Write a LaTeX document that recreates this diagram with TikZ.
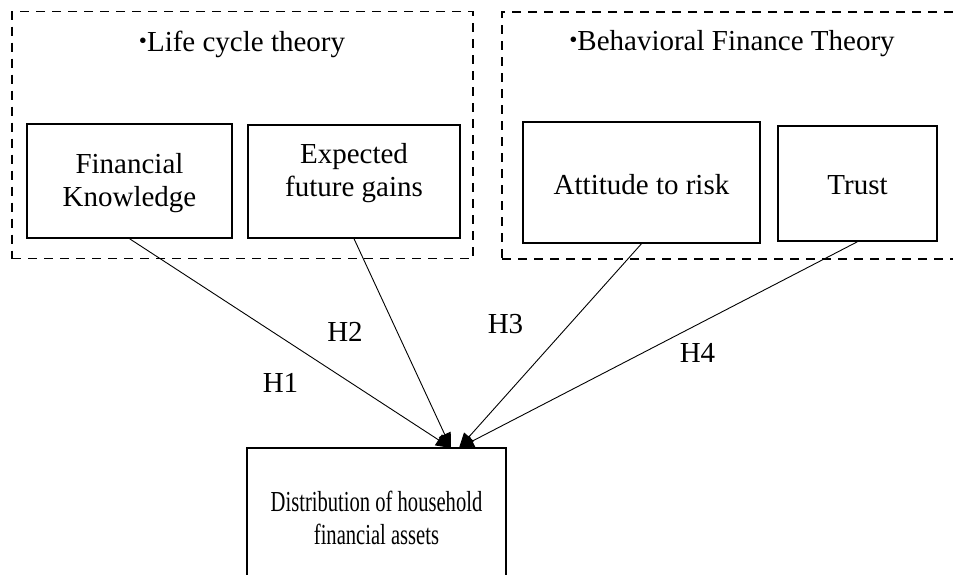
\documentclass[tikz,border=0pt]{standalone}
\usepackage{fontspec}
\usepackage{graphicx}
\setmainfont{Liberation Serif}
\usetikzlibrary{arrows.meta}
\begin{document}
\begin{tikzpicture}[x=1pt,y=1pt,
  every node/.style={font=\fontsize{29}{33}\selectfont},
  box/.style={draw, line width=1.4pt, inner sep=0pt},
  group/.style={draw, line width=1.4pt, dash pattern=on 9pt off 7pt, inner sep=0pt},
  txt/.style={inner sep=0pt, align=center},
  conn/.style={line width=0.9pt, -{Triangle[length=15pt,width=13pt]}},
  hlab/.style={inner sep=0pt}]
\clip (0,0) rectangle (953,-574);
\fill[white] (0,0) rectangle (953,-574);
% group boxes
\node[group, minimum width=461pt, minimum height=247pt] (lct) at (242.5,-135) {};
\node[group, minimum width=470pt, minimum height=247pt] (bft) at (737,-135.5) {};
\node[txt] (lcttitle) at (242,-44) {\raisebox{3pt}{\scalebox{0.8}{•}}Life cycle theory};
\node[txt] (bfttitle) at (732,-44) {\raisebox{3pt}{\scalebox{0.8}{•}}Behavioral Finance Theory};
% factor boxes
\node[box, minimum width=205pt, minimum height=114pt] (fk) at (129.5,-181) {};
\node[txt] (fktext) at (129.5,-183) {Financial\\Knowledge};
\node[box, minimum width=212pt, minimum height=113pt] (efg) at (354,-181.5) {};
\node[txt] (efgtext) at (354,-173) {Expected\\future gains};
\node[box, minimum width=237pt, minimum height=121pt] (atr) at (641.5,-182.5) {};
\node[txt] (atrtext) at (641.5,-185) {Attitude to risk};
\node[box, minimum width=159pt, minimum height=115pt] (tr) at (857.5,-183.5) {};
\node[txt] (trtext) at (857.5,-185) {Trust};
% outcome box
\node[box, minimum width=259pt, minimum height=140pt] (dist) at (376.5,-518) {};
\node[txt] (disttext) at (376.5,-518) {\scalebox{0.71}[1]{Distribution of household}\\\scalebox{0.71}[1]{financial assets}};
% arrow tips
\coordinate (tipL) at (451,-448);
\coordinate (tipR) at (459,-448);
\draw[conn] (fk.south) -- (tipL);
\draw[conn] (efg.south) -- (tipL);
\draw[conn] (atr.south) -- (tipR);
\draw[conn] (tr.south) -- (tipR);
% labels
\node[hlab] (h1) at (280.5,-382.5) {H1};
\node[hlab] (h2) at (345,-332) {H2};
\node[hlab] (h3) at (505.5,-324.5) {H3};
\node[hlab] (h4) at (697.5,-352.5) {H4};
\end{tikzpicture}
\end{document}
